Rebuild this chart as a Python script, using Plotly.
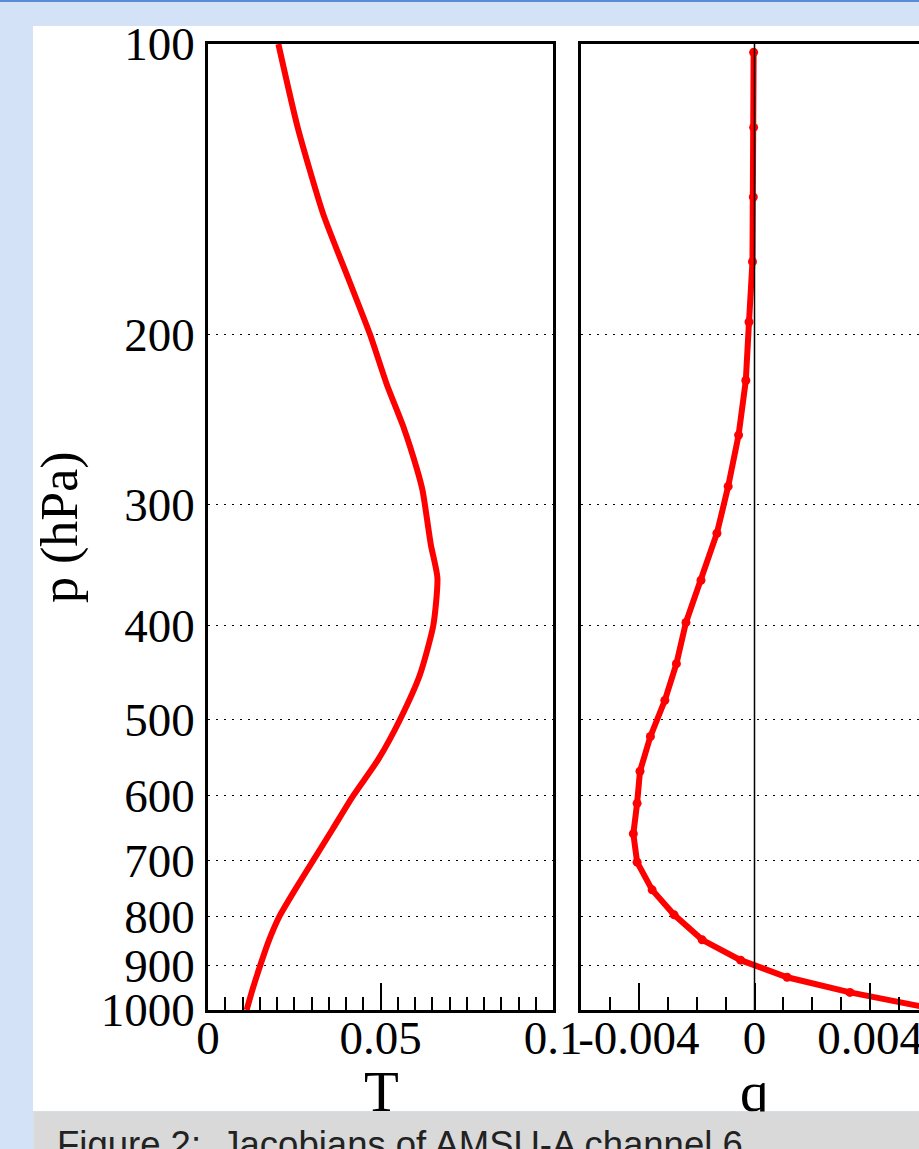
import plotly.graph_objects as go

# ---------------- data ----------------
# Temperature Jacobian (left panel)
p_T = [100, 122, 150, 175, 200, 225, 250, 275, 290, 330, 357, 400, 450, 500,
       550, 600, 650, 700, 750, 800, 850, 900, 950, 1000]
T_jac = [0.0204, 0.0260, 0.0334, 0.0407, 0.0470, 0.0518, 0.0568, 0.0605, 0.0622,
         0.0646, 0.0665, 0.0653, 0.0614, 0.0557, 0.0494, 0.0421, 0.0361, 0.0305,
         0.0253, 0.0207, 0.0175, 0.0151, 0.0130, 0.0112]

# Humidity Jacobian (right panel)
p_q = [102, 122, 144, 168, 194, 223, 254, 287, 321, 359, 397, 438, 478, 521,
       566, 611, 657, 703, 751, 797, 846, 888, 925, 959, 1000]
q_jac = [-0.00003, -0.00003, -0.00004, -0.00007, -0.00019, -0.00030, -0.00055,
         -0.00091, -0.00130, -0.00185, -0.00237, -0.00270, -0.00310, -0.00360,
         -0.00396, -0.00406, -0.00419, -0.00406, -0.00354, -0.00278, -0.00181,
         -0.00048, 0.00113, 0.00330, 0.00640]

p_tickvals = [100, 200, 300, 400, 500, 600, 700, 800, 900, 1000]
p_ticktext = ["100", "200", "300", "400", "500", "600", "700", "800", "900", "1000"]
T_tickvals = [0, 0.05, 0.1]
T_ticktext = ["0", "0.05", "0.1"]
q_tickvals = [-0.004, 0, 0.004]
q_ticktext = ["-0.004", "0", "0.004"]

caption = "Figure 2:&nbsp; Jacobians of AMSU-A channel 6"

# ---------------- layout helpers ----------------
W, H = 919, 1149
def fx(px):
    return px / W
def fy(py):
    return 1 - py / H

SERIF = "Liberation Serif, Times New Roman, serif"
RED = "#ff0000"

fig = go.Figure()
fig.add_trace(go.Scatter(x=T_jac, y=p_T, xaxis="x", yaxis="y", mode="lines",
                         line=dict(color=RED, width=6, shape="spline", smoothing=0.6),
                         showlegend=False, hoverinfo="skip"))
fig.add_trace(go.Scatter(x=q_jac, y=p_q, xaxis="x2", yaxis="y2", mode="lines+markers",
                         line=dict(color=RED, width=6),
                         marker=dict(color=RED, size=9), showlegend=False,
                         hoverinfo="skip"))

ydom = [fy(1010), fy(44)]
tickfont = dict(family=SERIF, size=47, color="black")

common_x = dict(ticks="inside", ticklen=27, tickwidth=1.5, tickcolor="black",
                showline=True, linewidth=2.5, linecolor="black", mirror=True,
                showgrid=False, zeroline=False, tickfont=tickfont,
                ticklabelstandoff=-15, ticklabeloverflow="allow",
                automargin=False, fixedrange=True)
common_y = dict(type="log", range=[3, 2], tickvals=p_tickvals,
                showgrid=True, gridcolor="black", gridwidth=1.4,
                griddash="1.5px,6.5px", showline=True, linewidth=2.5,
                linecolor="black", zeroline=False, ticks="",
                automargin=False, fixedrange=True, domain=ydom)

fig.update_layout(
    width=W, height=H, autosize=False,
    margin=dict(l=0, r=0, t=0, b=0, pad=0),
    paper_bgcolor="#d3e2f6", plot_bgcolor="white",
    xaxis=dict(domain=[fx(208), fx(553)], range=[0, 0.1], anchor="y",
               tickmode="array", tickvals=T_tickvals, ticktext=T_ticktext,
               minor=dict(ticks="inside", ticklen=13, tickwidth=1.5,
                          tickcolor="black", tickmode="linear", tick0=0,
                          dtick=0.005, showgrid=False),
               **common_x),
    yaxis=dict(anchor="x", ticktext=p_ticktext, tickfont=tickfont,
               ticklabelstandoff=1, mirror=True, **common_y),
    xaxis2=dict(domain=[fx(581), 1], range=[-0.006, 0.005689], anchor="y2",
                tickmode="array", tickvals=q_tickvals, ticktext=q_ticktext,
                minor=dict(ticks="inside", ticklen=13, tickwidth=1.5,
                           tickcolor="black", tickmode="linear", tick0=0,
                           dtick=0.001, showgrid=False),
                **common_x),
    yaxis2=dict(anchor="x2", showticklabels=False, mirror=False, **common_y),
    shapes=[
        dict(type="rect", xref="paper", yref="paper", x0=fx(33), x1=1,
             y0=fy(1111), y1=fy(26), fillcolor="white", line=dict(width=0),
             layer="below"),
        dict(type="rect", xref="paper", yref="paper", x0=0, x1=1,
             y0=fy(2), y1=1, fillcolor="#5b8bd4", line=dict(width=0),
             layer="below"),
        dict(type="line", xref="x2", yref="y2 domain", x0=0, x1=0, y0=0, y1=1,
             line=dict(color="black", width=1.5), layer="above"),
    ],
    annotations=[
        dict(text="T", xref="paper", yref="paper", x=fx(381), y=fy(1091),
             xanchor="center", yanchor="middle", showarrow=False,
             font=dict(family=SERIF, size=57, color="black")),
        dict(text="q", xref="x2", yref="paper", x=0, y=fy(1091),
             xanchor="center", yanchor="middle", showarrow=False,
             font=dict(family=SERIF, size=57, color="black")),
        dict(text="p (hPa)", xref="paper", yref="paper", x=fx(60), y=fy(527),
             xanchor="center", yanchor="middle", textangle=-90, showarrow=False,
             font=dict(family=SERIF, size=52, color="black")),
        # grey caption band (drawn over the bottom of the axis titles)
        dict(text="&nbsp;", xref="paper", yref="paper", x=fx(33), y=fy(1111),
             xanchor="left", yanchor="top", showarrow=False,
             width=886, height=60, borderpad=0, bgcolor="#d9d9d9",
             font=dict(size=10)),
        dict(text=caption, xref="paper", yref="paper", x=fx(55), y=fy(1122),
             xanchor="left", yanchor="top", showarrow=False, align="left",
             font=dict(family="Liberation Sans, Arial, sans-serif", size=36.5,
                       color="#222222")),
    ],
)

fig.write_html("out.html")
